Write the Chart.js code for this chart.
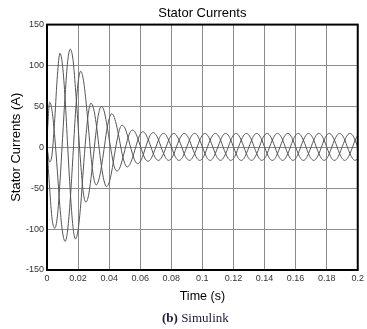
<!DOCTYPE html>
<html>
<head>
<meta charset="utf-8">
<script src="https://cdn.jsdelivr.net/npm/chart.js@4.4.1/dist/chart.umd.min.js"></script>
<style>
html,body{margin:0;padding:0;background:#fff;}
#wrap{position:relative;width:367px;height:329px;overflow:hidden;}
#cap{position:absolute;left:162px;top:310px;white-space:nowrap;font-family:"Liberation Serif","DejaVu Serif",serif;font-size:13px;color:#1b1b3a;}
</style>
</head>
<body>
<div id="wrap">
<canvas id="c" width="367" height="329"></canvas>
<div id="cap"><b>(b)</b> Simulink</div>
</div>
<script>
// time samples (s)
const time = [
0,0.0017,0.0033,0.005,0.0067,0.0083,0.01,0.0117,0.0133,0.015,0.0167,0.0183,
0.02,0.0217,0.0233,0.025,0.0267,0.0283,0.03,0.0317,0.0333,0.035,0.0367,0.0383,
0.04,0.0417,0.0433,0.045,0.0467,0.0483,0.05,0.0517,0.0533,0.055,0.0567,0.0583,
0.06,0.0617,0.0633,0.065,0.0667,0.0683,0.07,0.0717,0.0733,0.075,0.0767,0.0783,
0.08,0.0817,0.0833,0.085,0.0867,0.0883,0.09,0.0917,0.0933,0.095,0.0967,0.0983,
0.1,0.1017,0.1033,0.105,0.1067,0.1083,0.11,0.1117,0.1133,0.115,0.1167,0.1183,
0.12,0.1217,0.1233,0.125,0.1267,0.1283,0.13,0.1317,0.1333,0.135,0.1367,0.1383,
0.14,0.1417,0.1433,0.145,0.1467,0.1483,0.15,0.1517,0.1533,0.155,0.1567,0.1583,
0.16,0.1617,0.1633,0.165,0.1667,0.1683,0.17,0.1717,0.1733,0.175,0.1767,0.1783,
0.18,0.1817,0.1833,0.185,0.1867,0.1883,0.19,0.1917,0.1933,0.195,0.1967,0.1983,
0.2];

// stator current, phase a (A)
const phaseA = [
0,-18,-8,35,88,115,100,58,1.5,-55,-97,-112,
-101,-70.5,-29,12.5,43,54,47,28.5,3,-22.5,-41,-48,
-43,-29,-10.5,8,22,27,24,15,3.5,-8,-17,-20,
-17.5,-10.5,-1,8.5,15.5,18,15.7,9.5,1,-7.5,-13.7,-16,
-13.8,-7.8,0.5,8.8,14.8,17,14.8,8.8,0.5,-7.8,-13.8,
-16,-13.8,-7.8,0.5,8.8,14.8,17,14.8,8.8,0.5,-7.8,-13.8,
-16,-13.8,-7.8,0.5,8.8,14.8,17,14.8,8.8,0.5,-7.8,-13.8,
-16,-13.8,-7.8,0.5,8.8,14.8,17,14.8,8.8,0.5,-7.8,-13.8,
-16,-13.8,-7.8,0.5,8.8,14.8,17,14.8,8.8,0.5,-7.8,-13.8,
-16,-13.8,-7.8,0.5,8.8,14.8,17,14.8,8.8,0.5,-7.8,-13.8,
-16,-13.8];

// stator current, phase b (A)
const phaseB = [
0,-50,-88,-99,-84,-44,10.5,65,105,120,107.5,73,
26.5,-20,-54.5,-67,-59,-38,-8.5,21,42,50,44.7,30,
10.5,-9,-23.7,-29,-25.7,-16.5,-4,8.5,17.7,21,18.5,11.5,
2,-7.5,-14.5,-17,-14.7,-8.5,0,8.5,14.7,17,14.8,8.8,
0.5,-7.8,-13.8,-16,-13.8,-7.8,0.5,8.8,14.8,
17,14.8,8.8,0.5,-7.8,-13.8,-16,-13.8,-7.8,0.5,8.8,14.8,
17,14.8,8.8,0.5,-7.8,-13.8,-16,-13.8,-7.8,0.5,8.8,14.8,
17,14.8,8.8,0.5,-7.8,-13.8,-16,-13.8,-7.8,0.5,8.8,14.8,
17,14.8,8.8,0.5,-7.8,-13.8,-16,-13.8,-7.8,0.5,8.8,14.8,
17,14.8,8.8,0.5,-7.8,-13.8,-16,-13.8,-7.8,0.5,8.8,14.8,
17,14.8,8.8,0.5];

// stator current, phase c (A)
const phaseC = [
10,55,44,12.5,-30,-72.5,-103.6,-115,-101,-63,-11,41,
79,93,83.7,58,23.5,-11,-36.7,-46,-40,-24,-2.5,19,
35,41,36.6,24.7,8.5,-7.7,-19.6,-24,-21,-13,-2.5,8,
16,19,16.7,10.2,1.5,-7.2,-13.7,-16,-13.8,-7.8,0.5,8.8,
14.8,17,14.8,8.8,0.5,-7.8,-13.8,
-16,-13.8,-7.8,0.5,8.8,14.8,17,14.8,8.8,0.5,-7.8,-13.8,
-16,-13.8,-7.8,0.5,8.8,14.8,17,14.8,8.8,0.5,-7.8,-13.8,
-16,-13.8,-7.8,0.5,8.8,14.8,17,14.8,8.8,0.5,-7.8,-13.8,
-16,-13.8,-7.8,0.5,8.8,14.8,17,14.8,8.8,0.5,-7.8,-13.8,
-16,-13.8,-7.8,0.5,8.8,14.8,17,14.8,8.8,0.5,-7.8,-13.8,
-16,-13.8,-7.8,0.5,8.8,14.8];

const xTicks = [0,0.02,0.04,0.06,0.08,0.1,0.12,0.14,0.16,0.18,0.2];
const xTickLabels = ['0','0.02','0.04','0.06','0.08','0.1','0.12','0.14','0.16','0.18','0.2'];
const yTicks = [-150,-100,-50,0,50,100,150];
const yTickLabels = ['-150','-100','-50','0','50','100','150'];

const FONT = '"Liberation Sans", Arial, Helvetica, sans-serif';
const lineColor = '#555555';
const gridColor = '#8c8c8c';

const framePlugin = {
  id: 'frame',
  afterDatasetsDraw(chart) {
    const {ctx, chartArea: {left, top, right, bottom}} = chart;
    ctx.save();
    ctx.strokeStyle = '#000';
    ctx.lineWidth = 2;
    ctx.strokeRect(left, top, right - left, bottom - top);
    ctx.restore();
  }
};

function ds(values) {
  return {
    data: values,
    borderColor: lineColor,
    borderWidth: 1,
    pointRadius: 0,
    fill: false,
    cubicInterpolationMode: 'monotone'
  };
}

new Chart(document.getElementById('c'), {
  type: 'line',
  data: {
    labels: time,
    datasets: [ds(phaseA), ds(phaseB), ds(phaseC)]
  },
  options: {
    responsive: false,
    animation: false,
    devicePixelRatio: 1,
    layout: {padding: {left: 0, right: 6, top: 0, bottom: 22}},
    plugins: {
      legend: {display: false},
      tooltip: {enabled: false},
      title: {
        display: true,
        text: 'Stator Currents',
        fullSize: false,
        color: '#000',
        font: {family: FONT, size: 13, weight: 'normal'},
        padding: {top: 6, bottom: 3}
      }
    },
    scales: {
      x: {
        type: 'linear',
        min: 0, max: 0.2,
        afterBuildTicks: s => { s.ticks = xTicks.map(v => ({value: v})); },
        afterFit: s => { s.height = 37; },
        ticks: {
          callback: (v, i) => xTickLabels[i],
          font: {family: FONT, size: 9},
          color: '#333',
          padding: 3,
          maxRotation: 0,
          autoSkip: false
        },
        grid: {color: gridColor, lineWidth: 1, drawTicks: false},
        border: {display: false},
        title: {
          display: true,
          text: 'Time (s)',
          color: '#000',
          font: {family: FONT, size: 12.5},
          padding: {top: 0, bottom: 3}
        }
      },
      y: {
        type: 'linear',
        min: -150, max: 150,
        afterBuildTicks: s => { s.ticks = yTicks.map(v => ({value: v})); },
        afterFit: s => { s.width = 47; },
        ticks: {
          callback: (v, i) => yTickLabels[i],
          font: {family: FONT, size: 9},
          color: '#333',
          padding: 3,
          autoSkip: false
        },
        grid: {color: gridColor, lineWidth: 1, drawTicks: false},
        border: {display: false},
        title: {
          display: true,
          text: 'Stator Currents (A)',
          color: '#000',
          font: {family: FONT, size: 13},
          padding: {top: 9, bottom: 0}
        }
      }
    }
  },
  plugins: [framePlugin]
});
</script>
</body>
</html>
